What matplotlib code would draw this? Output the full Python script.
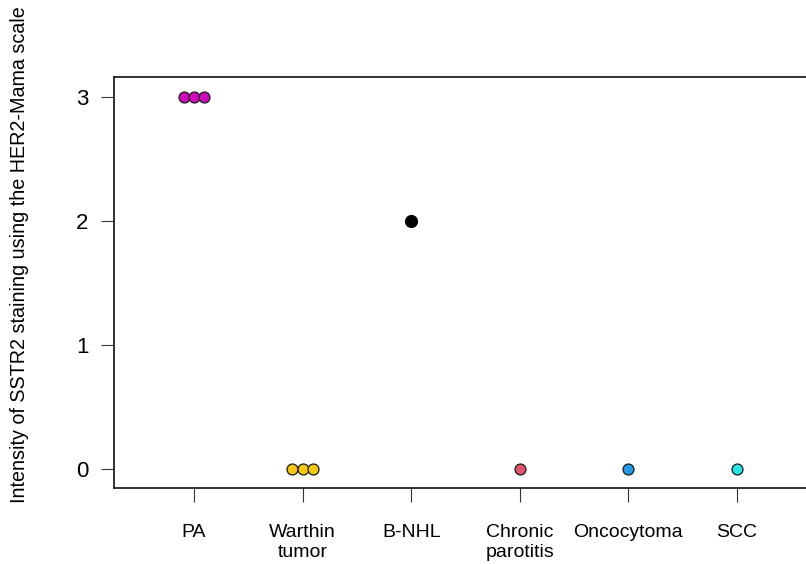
import numpy as np
import matplotlib.pyplot as plt

plt.rcParams['font.family'] = ['Liberation Sans', 'DejaVu Sans']

categories = ['PA', 'Warthin\ntumor', 'B-NHL', 'Chronic\nparotitis', 'Oncocytoma', 'SCC']
scores = [[3, 3, 3], [0, 0, 0], [2], [0], [0], [0]]
colors = ['#CD0BBC', '#F5C710', '#000000', '#DF536B', '#2297E6', '#28E2E5']
yticks = [0, 1, 2, 3]

fig = plt.figure(figsize=(8.06, 5.64), dpi=100)
ax = fig.add_axes([0.1414, 0.1348, 0.87, 0.7287])

step = 0.095  # stacking offset, like stripchart(method="stack")
for i, (vals, c) in enumerate(zip(scores, colors)):
    n = len(vals)
    xs = i + 1 + (np.arange(n) - (n - 1) / 2) * step
    if c == '#000000':
        ax.scatter(xs, vals, s=75, color=c, edgecolors=c, linewidths=0.8, zorder=3, clip_on=False)
    else:
        ax.scatter(xs, vals, s=62, color=c, edgecolors='#1a1a1a', linewidths=0.9, zorder=3, clip_on=False)

ax.set_xlim(0.263, 6.72)
ax.set_ylim(-0.153, 3.161)
ax.set_xticks(range(1, len(categories) + 1))
ax.set_xticklabels(categories, fontsize=14, linespacing=1.25)
ax.set_yticks(yticks)
ax.set_yticklabels([str(v) for v in yticks], fontsize=16)
ax.tick_params(axis='x', length=10, width=0.8, color='#333333', pad=16)
ax.tick_params(axis='y', length=9.5, width=0.8, color='#333333', pad=9)
for s in ax.spines.values():
    s.set_linewidth(1.3)
    s.set_color('#222222')
ax.spines['right'].set_visible(False)

fig.text(20 / 806, 1 - 255 / 564, 'Intensity of SSTR2 staining using the HER2-Mama scale',
         rotation=90, ha='center', va='center', fontsize=14.2)

fig.savefig('out.png', dpi=100)
